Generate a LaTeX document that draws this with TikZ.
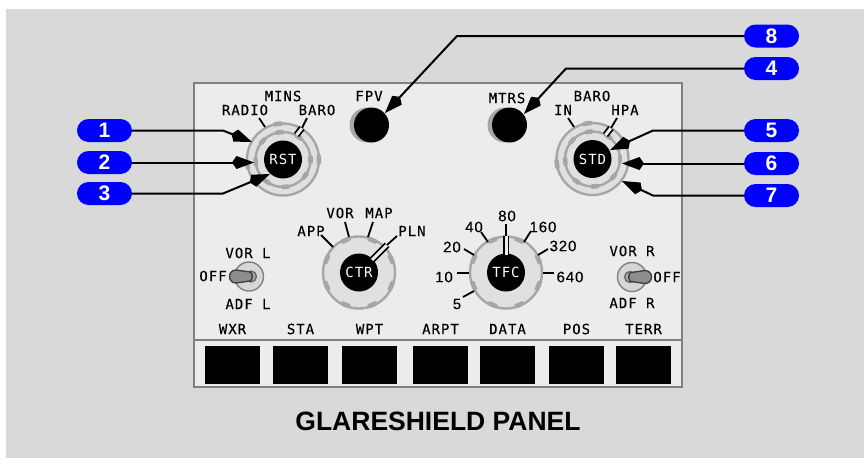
\documentclass[tikz,border=0pt]{standalone}
\usepackage{fontspec}
\usetikzlibrary{arrows.meta}
\setmainfont{Liberation Sans}
\newfontfamily\monof[LetterSpace=7,FakeBold=0.2]{DejaVu Sans Mono}
\newfontfamily\hubf[LetterSpace=7]{DejaVu Sans Mono}
\newfontfamily\digf[LetterSpace=6,FakeBold=0.25]{Liberation Sans}
\definecolor{bg}{HTML}{D9D9D9}
\definecolor{panel}{HTML}{ECECEC}
\definecolor{edge}{HTML}{808080}
\definecolor{ring}{HTML}{A6A6A6}
\definecolor{knobf}{HTML}{E0E0E0}
\definecolor{badge}{HTML}{0000FF}
\tikzset{
 lbl/.style={inner sep=0pt,font=\monof\fontsize{14}{15}\selectfont,text=black},
 dig/.style={inner sep=0pt,font=\digf\fontsize{15}{16}\selectfont,text=black},
 knobtxt/.style={inner sep=0pt,font=\hubf\fontsize{14}{15}\selectfont,text=white},
 callout/.style={rounded corners=11.5pt,fill=badge,text=white,minimum width=55pt,minimum height=23pt,inner sep=0pt,font=\bfseries\fontsize{21}{22}\selectfont},
 lead/.style={line width=2pt,black,-{Kite[length=22pt,width=13pt,inset=4.5pt]}},
 tick/.style={line width=1.8pt,black},
 hub/.style={circle,fill=black,inner sep=0pt,minimum size=38pt},
 sq/.style={fill=black,minimum width=55pt,minimum height=38pt,inner sep=0pt,anchor=north west},
 toggleplate/.style={circle,draw=edge,line width=1.4pt,fill=knobf!90!gray,inner sep=0pt,minimum size=29pt},
 ringline/.style={ring,line width=2.4pt,fill=knobf},
}
\newcommand{\bumps}[3]{% centre, radius, angles
 \foreach \a in {#3}
  \draw[ring,line width=4.6pt,line cap=round] (#1)++(\a-5:#2) arc[start angle=\a-5,end angle=\a+5,radius=#2];
}
\newcommand{\dbl}[2]{% double pointer
 \draw[line width=6.6pt,black] (#1) -- (#2);
 \draw[line width=3pt,panel] (#1) -- (#2);
}
\begin{document}
\begin{tikzpicture}[x=1pt,y=-1pt]
\useasboundingbox (0,0) rectangle (864,458);
\fill[white] (0,0) rectangle (864,458);
\fill[bg] (6,9) rectangle (864,458);
\draw[edge,line width=2pt,fill=panel] (194,83) rectangle (682,387);
\draw[edge,line width=2pt] (194,340) -- (682,340);

% display buttons
\foreach \n/\x/\t in {a/205/WXR,b/273/STA,c/342/WPT,d/413/ARPT,e/480/DATA,f/549/POS,g/616/TERR}{
  \node[sq] (s\n) at (\x,346) {};
  \node[lbl] (t\n) at (\x+27.5,329) {\t};
}

% RST knob
\coordinate (rc) at (283,159.5);
\draw[ringline] (rc) circle (36);
\draw[ringline] (rc) circle (27.5);
\bumps{rc}{27.5}{0,36,85,126,175,222,263,305}
\bumps{rc}{36}{0,172,262}
\node[hub] (rst) at (rc) {};
\node[knobtxt] (rstt) at (rc) {RST};
\coordinate (rb) at (302,128); \coordinate (rb2) at (296.5,135);
\dbl{rb}{rb2}
\draw[tick] (rb) -- (307,118);
\draw[tick] (259,118) -- (265,127);
\node[lbl] (n1) at (245,110) {RADIO};
\node[lbl] (n2) at (283,96) {MINS};
\node[lbl] (n3) at (317,110) {BARO};

% STD knob
\coordinate (sc) at (592.5,159);
\draw[ringline] (sc) circle (36);
\draw[ringline] (sc) circle (27.5);
\bumps{sc}{27.5}{0,40,85,126,175,222,263,305}
\bumps{sc}{36}{172,262}
\node[hub] (std) at (sc) {};
\node[knobtxt] (stdt) at (sc) {STD};
\coordinate (sb) at (611,128); \coordinate (sb2) at (605.5,135);
\dbl{sb}{sb2}
\draw[tick] (sb) -- (617,118);
\draw[tick] (568,118) -- (574,127);
\node[lbl] (n4) at (563,110) {IN};
\node[lbl] (n5) at (592,96) {BARO};
\node[lbl] (n6) at (625,110) {HPA};

% FPV / MTRS
\fill[ring] (367,125) circle (17.5);
\node[hub,minimum size=35pt] (fpv) at (371.5,125) {};
\node[lbl] (n7) at (369,96) {FPV};
\fill[ring] (505,125) circle (17.5);
\node[hub,minimum size=35pt] (mtrs) at (509.5,125) {};
\node[lbl] (n8) at (507,98) {MTRS};

% CTR knob
\coordinate (cc) at (359,272.5);
\draw[ringline] (cc) circle (36);
\bumps{cc}{35}{22.5,67.5,112.5,157.5,202.5,247.5,292.5,337.5}
\node[hub] (ctr) at (cc) {};
\node[knobtxt] (ctrt) at (cc) {CTR};
\coordinate (cp) at (387,245); \coordinate (cp2) at (372,260);
\dbl{cp}{cp2}
\draw[tick] (cp) -- (397,236);
\draw[tick] (321,235) -- (333,247);
\draw[tick] (345,222) -- (349,237);
\draw[tick] (373,222) -- (368,237);
\node[lbl] (c1) at (311,231) {APP};
\node[lbl] (c2) at (340,213) {VOR};
\node[lbl] (c3) at (379,213) {MAP};
\node[lbl] (c4) at (412,231) {PLN};

% TFC knob
\coordinate (tc) at (506,272.5);
\draw[ringline] (tc) circle (36);
\bumps{tc}{35}{22.5,67.5,112.5,157.5,202.5,247.5,292.5,337.5}
\node[hub] (tfc) at (tc) {};
\node[knobtxt] (tfct) at (tc) {TFC};
\coordinate (tp) at (506,236); \coordinate (tp2) at (506,255);
\dbl{tp}{tp2}
\draw[tick] (tp) -- (506,224);
\draw[tick] (463,297) -- (474,291);
\draw[tick] (457,273) -- (469,273);
\draw[tick] (464,249) -- (474,255);
\draw[tick] (481,232) -- (488,242);
\draw[tick] (531,231) -- (524,242);
\draw[tick] (548,249) -- (538,255);
\draw[tick] (554,273) -- (543,273);
\node[dig] (d1) at (507,216) {80};
\node[dig] (d2) at (474,227) {40};
\node[dig] (d3) at (543,227) {160};
\node[dig] (d4) at (452,247) {20};
\node[dig] (d5) at (563,246) {320};
\node[dig] (d6) at (444,277) {10};
\node[dig] (d7) at (570,277) {640};
\node[dig] (d8) at (457,304) {5};

% toggles
\node[toggleplate] (tl) at (249,276.5) {};
\draw[black!60,line width=1.3pt,fill=ring] (251,276.5) circle (5.5);
\draw[black!75,line width=1.4pt,fill=ring!85!black] (236,270) .. controls (232,270) and (229.5,273) .. (229.5,276.5) .. controls (229.5,280) and (232,283) .. (236,283) -- (250,281) .. controls (253,280.5) and (253,272.5) .. (250,272) -- cycle;
\node[lbl] (l1) at (248,253) {VOR L};
\node[lbl] (l2) at (248,304) {ADF L};
\node[lbl] (l3) at (213,276) {OFF};
\node[toggleplate] (tr) at (632,277) {};
\draw[black!60,line width=1.3pt,fill=ring] (630,277) circle (5.5);
\draw[black!75,line width=1.4pt,fill=ring!85!black] (645,270.5) .. controls (649,270.5) and (651.5,273.5) .. (651.5,277) .. controls (651.5,280.5) and (649,283.5) .. (645,283.5) -- (631,281.5) .. controls (628,281) and (628,273) .. (631,272.5) -- cycle;
\node[lbl] (r1) at (632,251) {VOR R};
\node[lbl] (r2) at (632,303) {ADF R};
\node[lbl] (r3) at (667,277) {OFF};

% callouts
\node[callout] (k1) at (104.5,130.5) {1};
\node[callout] (k2) at (104.5,162.5) {2};
\node[callout] (k3) at (104.5,193.5) {3};
\node[callout] (k8) at (771.5,36) {8};
\node[callout] (k4) at (771.5,68.5) {4};
\node[callout] (k5) at (771.5,130.5) {5};
\node[callout] (k6) at (771.5,163.5) {6};
\node[callout] (k7) at (771.5,195.5) {7};
\coordinate (a1) at (252,142);
\coordinate (a2) at (254,162.5);
\coordinate (a3) at (270,174);
\coordinate (a8) at (385,113);
\coordinate (a4) at (524,114);
\coordinate (a5) at (610,150);
\coordinate (a6) at (622,163.5);
\coordinate (a7) at (622,181);
\draw[lead] (k1.east) -- (223,130.5) -- (a1);
\draw[lead] (k2.east) -- (a2);
\draw[lead] (k3.east) -- (223,193.5) -- (a3);
\draw[lead] (k8.west) -- (457,36) -- (a8);
\draw[lead] (k4.west) -- (566,68.5) -- (a4);
\draw[lead] (k5.west) -- (653,130.5) -- (a5);
\draw[lead] (k6.west) -- (a6);
\draw[lead] (k7.west) -- (653,195.5) -- (a7);

\node[inner sep=0pt,font=\bfseries\fontsize{26.5}{28}\selectfont,text=black] (title) at (438,421.5) {GLARESHIELD PANEL};
\end{tikzpicture}
\end{document}
